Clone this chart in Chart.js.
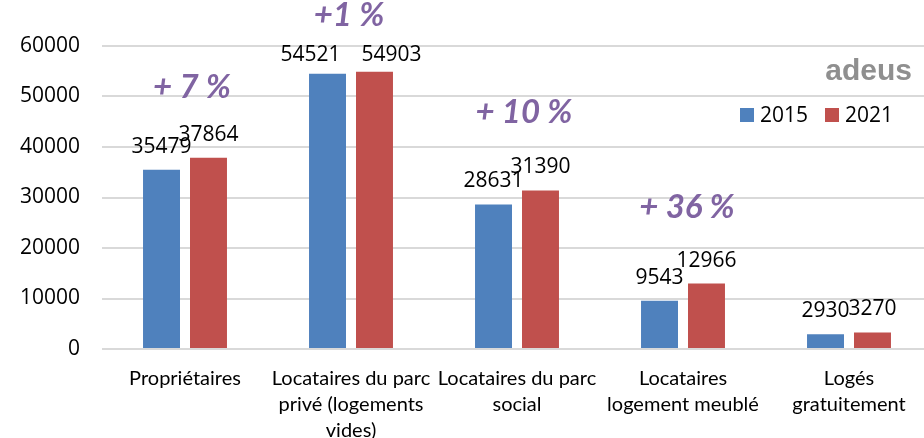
<!DOCTYPE html>
<html lang="fr">
<head>
<meta charset="utf-8">
<title>Statut d'occupation des résidences principales</title>
<script src="https://cdn.jsdelivr.net/npm/chart.js@4.4.1/dist/chart.umd.min.js"></script>
<style>
    html, body { margin: 0; padding: 0; overflow: hidden; background: #fff; }
    #wrap { width: 932px; height: 438px; }
</style>
</head>
<body>
<div id="wrap"><canvas id="myChart" width="932" height="438"></canvas></div>
<script>
    // catégories (libellés sur plusieurs lignes)
    const categories = [
        ['Propriétaires'],
        ['Locataires du parc', 'privé (logements', 'vides)'],
        ['Locataires du parc', 'social'],
        ['Locataires', 'logement meublé'],
        ['Logés', 'gratuitement']
    ];
    const years = ['2015', '2021'];
    const values2015 = [35479, 54521, 28631, 9543, 2930];
    const values2021 = [37864, 54903, 31390, 12966, 3270];
    const gains = ['+ 7 %', '+1 %', '+ 10 %', '+ 36 %', ''];
    const yTicks = [0, 10000, 20000, 30000, 40000, 50000, 60000];

    const BLUE = '#4F81BD';
    const RED = '#C0504D';
    const PURPLE = '#8064A2';
    const FONT = 'Lato, "Open Sans", sans-serif';
    const NUM_FONT = '"Open Sans", Lato, sans-serif';

    // valeurs au-dessus des barres
    const valueLabels = {
        id: 'valueLabels',
        afterDatasetsDraw(chart, args, opts) {
            const c = chart.ctx;
            const top = chart.chartArea.top;
            c.save();
            c.font = '21px ' + NUM_FONT;
            c.fillStyle = '#000';
            c.textAlign = 'center';
            c.textBaseline = 'alphabetic';
            chart.data.datasets.forEach((ds, i) => {
                chart.getDatasetMeta(i).data.forEach((bar, j) => {
                    let y = Math.max(bar.y - 17, top + 15);
                    // les deux grandes valeurs sont écartées pour ne pas se chevaucher
                    let dx = j === opts.spreadIndex ? (i === 0 ? -opts.spread : opts.spread) : 0;
                    c.fillText(String(ds.data[j]), bar.x + dx, y);
                });
            });
            c.restore();
        }
    };

    // évolution en %, légende et logo
    const extras = {
        id: 'extras',
        afterDraw(chart, args, opts) {
            const c = chart.ctx;
            const xs = chart.scales.x;
            c.save();

            c.font = 'italic bold 33px ' + FONT;
            c.fillStyle = PURPLE;
            c.textAlign = 'center';
            c.textBaseline = 'middle';
            gains.forEach((txt, i) => {
                if (!txt) return;
                const barTop = chart.scales.y.getPixelForValue(Math.max(values2015[i], values2021[i]));
                c.fillText(txt, xs.getPixelForValue(i) + opts.shift[i], barTop - opts.lift[i]);
            });

            // légende
            c.font = '21px ' + NUM_FONT;
            c.textAlign = 'left';
            c.textBaseline = 'middle';
            const colors = [BLUE, RED];
            let x = opts.legendX;
            years.forEach((yr, i) => {
                c.fillStyle = colors[i];
                c.fillRect(x, opts.legendY - 7, 14, 14);
                c.fillStyle = '#000';
                c.fillText(yr, x + 20, opts.legendY + 1);
                x += 85;
            });

            // logo
            c.font = 'bold 30px "Liberation Sans", Arial, sans-serif';
            c.fillStyle = '#8f8f8f';
            c.textAlign = 'right';
            c.textBaseline = 'alphabetic';
            c.fillText('adeus', chart.chartArea.right - 20, 80);
            c.restore();
        }
    };

    let ctx = document.getElementById('myChart');

    let config = {
        type: 'bar',
        data: {
            labels: categories,
            datasets: [
                { label: years[0], data: values2015, backgroundColor: BLUE },
                { label: years[1], data: values2021, backgroundColor: RED }
            ]
        },
        options: {
            responsive: false,
            animation: false,
            events: [],
            categoryPercentage: 0.566,
            barPercentage: 0.787,
            layout: { padding: { top: 46, left: 0, right: 0, bottom: 0 } },
            plugins: {
                legend: { display: false },
                tooltip: { enabled: false },
                valueLabels: { spreadIndex: 1, spread: 17 },
                extras: {
                    shift: [7, -2, 7, 4, 0],
                    lift: [70, 56, 78, 76, 0],
                    legendX: 740,
                    legendY: 115
                }
            },
            scales: {
                x: {
                    grid: { display: false },
                    border: { display: false },
                    ticks: {
                        color: '#000',
                        font: { family: FONT, size: 20, lineHeight: 1.3 },
                        padding: 9,
                        maxRotation: 0,
                        autoSkip: false
                    },
                    afterFit(s) { s.height = 89; }
                },
                y: {
                    min: 0,
                    max: 60000,
                    afterBuildTicks(s) { s.ticks = yTicks.map(v => ({ value: v })); },
                    grid: { color: '#d9d9d9', lineWidth: 2, drawTicks: false },
                    border: { display: false },
                    ticks: {
                        color: '#000',
                        font: { family: NUM_FONT, size: 21 },
                        padding: 22,
                        callback: v => String(v)
                    },
                    afterFit(s) { s.width = 102; }
                }
            }
        },
        plugins: [valueLabels, extras]
    };

    let myChart = new Chart(ctx, config);
</script>
</body>
</html>
